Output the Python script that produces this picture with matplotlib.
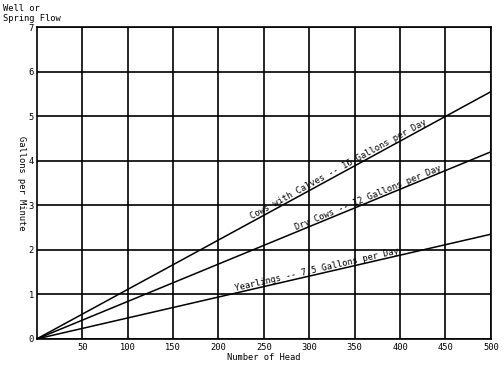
import matplotlib
matplotlib.use("Agg")
import matplotlib.pyplot as plt
import numpy as np

# gallons per minute needed at 500 head
heads = [0, 500]
cows_calves = [0, 5.55]
dry_cows = [0, 4.2]
yearlings = [0, 2.35]

labels = ["Cows with Calves -- 16 Gallons per Day",
          "Dry Cows -- 12 Gallons per Day",
          "Yearlings -- 7.5 Gallons per Day"]
label_x = [335, 367, 310]

x_ticks = list(range(50, 501, 50))
y_ticks = list(range(0, 8))

plt.rcParams['font.family'] = ['DejaVu Sans Mono']
fs = 6.3

fig = plt.figure(figsize=(5.04, 3.66), dpi=100)
ax = fig.add_axes([0.073, 0.074, 0.901, 0.852])
ax.set_xlim(0, 500)
ax.set_ylim(0, 7)

ax.set_xticks(x_ticks)
ax.set_yticks(y_ticks)
ax.tick_params(axis='x', length=0, labelsize=fs, pad=3)
ax.tick_params(axis='y', length=0, labelsize=fs, pad=2)
ax.grid(True, color='black', linewidth=1.2)
for s in ax.spines.values():
    s.set_linewidth(1.2)

series = [cows_calves, dry_cows, yearlings]
for vals in series:
    ax.plot(heads, vals, color='black', linewidth=1.1)

ax.set_xlabel("Number of Head", fontsize=fs, labelpad=1)
ax.set_ylabel("Gallons per Minute", fontsize=fs, rotation=270,
              ha='center', va='center')
ax.yaxis.set_label_coords(-0.033, 0.5)
fig.text(0.005, 0.99, "Well or\nSpring Flow", fontsize=fs, va='top', ha='left')

fig.canvas.draw()
for vals, txt, lx in zip(series, labels, label_x):
    ly = np.interp(lx, heads, vals)
    p0 = ax.transData.transform((heads[0], vals[0]))
    p1 = ax.transData.transform((heads[1], vals[1]))
    ang = np.degrees(np.arctan2(p1[1] - p0[1], p1[0] - p0[0]))
    ax.text(lx, ly, txt, fontsize=fs, rotation=ang, rotation_mode='anchor',
            ha='center', va='bottom')

fig.savefig("out.png", dpi=100, facecolor='white')
